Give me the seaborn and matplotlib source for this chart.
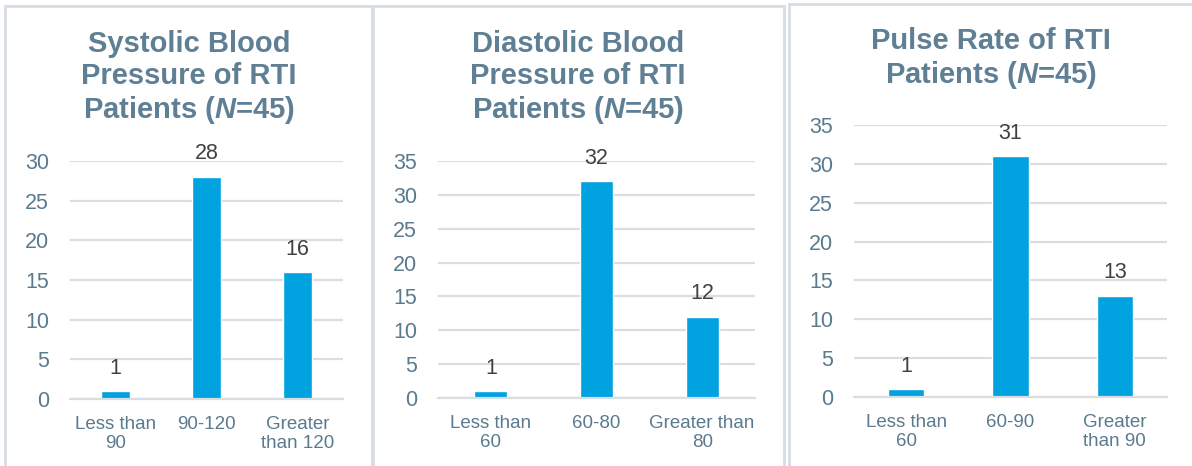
import matplotlib
matplotlib.use("Agg")
import matplotlib.pyplot as plt
import seaborn as sns
import pandas as pd
from matplotlib.patches import Rectangle

# ---- data ----
sys_cats = ["Less than\n90", "90-120", "Greater\nthan 120"]
sys_vals = [1, 28, 16]
dia_cats = ["Less than\n60", "60-80", "Greater than\n80"]
dia_vals = [1, 32, 12]
pulse_cats = ["Less than\n60", "60-90", "Greater\nthan 90"]
pulse_vals = [1, 31, 13]
titles = [
    "Systolic Blood\nPressure of RTI\nPatients ($N$=45)",
    "Diastolic Blood\nPressure of RTI\nPatients ($N$=45)",
    "Pulse Rate of RTI\nPatients ($N$=45)",
]
y_max = [30, 35, 35]
y_step = 5

# ---- style ----
sns.set_style("white")
plt.rcParams["font.family"] = ["Liberation Sans", "DejaVu Sans"]
plt.rcParams["mathtext.fontset"] = "custom"
plt.rcParams["mathtext.it"] = "Liberation Sans:italic:bold"
plt.rcParams["mathtext.rm"] = "Liberation Sans:bold"
plt.rcParams["mathtext.bf"] = "Liberation Sans:bold"

BAR = "#00a2df"
TICK = "#5a7a8e"
TITLE = "#5e7f94"
GRID = "#d9dee3"
LABEL = "#404040"
BORDER = "#d6dde3"

W, H = 1192, 466
fig = plt.figure(figsize=(W / 100, H / 100), dpi=100)
fig.patch.set_facecolor("white")

def fx(px):
    return px / W

def fy(py):
    return 1 - py / H

# panel boxes (x0, y0, x1, y1) in pixels
boxes = [(5, 6, 372, 480), (373, 6, 784, 480), (789, 4, 1205, 480)]
for (x0, y0, x1, y1) in boxes:
    fig.patches.append(Rectangle((fx(x0), fy(y1)), fx(x1 - x0), (y1 - y0) / H,
                                 transform=fig.transFigure, fill=False,
                                 edgecolor=BORDER, linewidth=2, zorder=0))

# axes rectangles: left, right, y of zero, y of top (pixels)
axes_px = [(70, 343, 399, 161), (438, 755, 398, 161), (854, 1167, 397, 125)]
widths = [0.315, 0.31, 0.35]
title_pos = [(189, 78), (578, 78), (991, 59)]

datasets = [(sys_cats, sys_vals), (dia_cats, dia_vals), (pulse_cats, pulse_vals)]

for i, ((cats, vals), (l, r, yb, yt)) in enumerate(zip(datasets, axes_px)):
    ax = fig.add_axes([fx(l), fy(yb), fx(r - l), (yb - yt) / H])
    df = pd.DataFrame({"cat": cats, "val": vals})
    sns.barplot(data=df, x="cat", y="val", ax=ax, color=BAR, width=widths[i],
                saturation=1, order=cats)
    ax.set_xlim(-0.5, 2.5)
    ax.set_ylim(0, y_max[i])
    ax.set_yticks(list(range(0, y_max[i] + 1, y_step)))
    ax.set_xlabel("")
    ax.set_ylabel("")
    ax.yaxis.grid(True, color=GRID, linewidth=1.6)
    ax.set_axisbelow(True)
    for s in ["top", "left", "right"]:
        ax.spines[s].set_visible(False)
    ax.spines["bottom"].set_color(GRID)
    ax.spines["bottom"].set_linewidth(1.6)
    ax.tick_params(axis="y", length=0, pad=15, labelsize=15.5, labelcolor=TICK)
    ax.tick_params(axis="x", length=0, pad=12, labelsize=13.5, labelcolor=TICK)
    ax.set_xticks(range(len(cats)))
    ax.set_xticklabels(cats, linespacing=1.2)
    ax.patch.set_alpha(0)
    for c in ax.containers:
        ax.bar_label(c, labels=[str(v) for v in vals], padding=9,
                     fontsize=15.5, color=LABEL)
    tx, ty = title_pos[i]
    fig.text(fx(tx), fy(ty), titles[i], ha="center", va="center",
             fontsize=21, fontweight="bold", color=TITLE, linespacing=1.17)

fig.savefig("out.png", dpi=100)
